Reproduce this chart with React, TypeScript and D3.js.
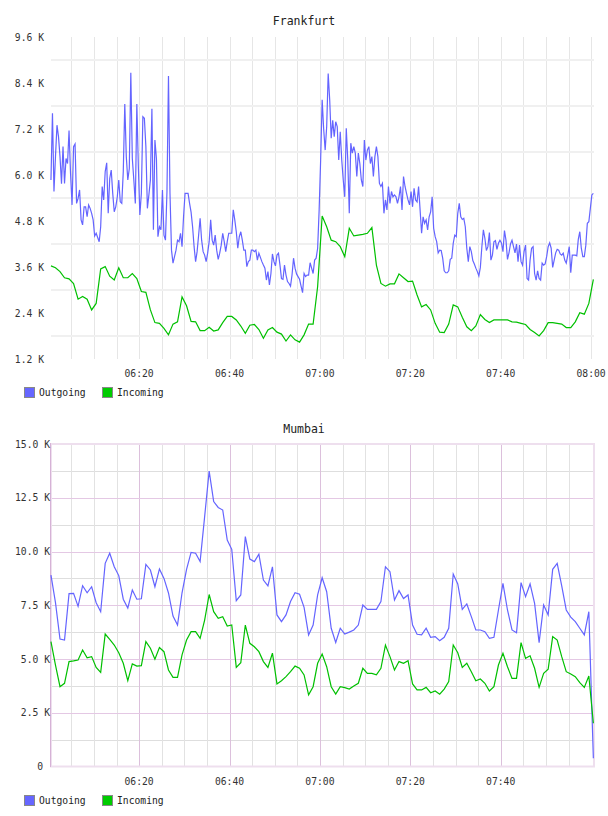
import React from "react";
import * as d3 from "d3";

// series start at 06:00:30, Frankfurt outgoing every 20 s, the others every minute (values in K)
const fraOutgoing = [
  5.87, 7.61, 5.57, 6.48, 7.3, 7.0, 6.48, 5.77, 6.74, 5.78,
  6.43, 6.3, 7.16, 6.04, 5.22, 6.74, 6.81, 5.26, 5.39, 5.61,
  4.83, 4.7, 5.17, 5.17, 4.91, 5.22, 5.13, 5.0, 4.83, 4.41,
  4.48, 4.37, 4.26, 4.65, 5.7, 5.35, 6.09, 6.32, 5.0, 5.91,
  6.13, 5.52, 5.04, 5.17, 5.42, 5.87, 5.3, 5.26, 6.09, 7.85,
  6.48, 5.87, 6.17, 8.67, 6.43, 5.87, 5.26, 7.85, 6.22, 4.96,
  5.52, 7.52, 7.48, 6.74, 5.13, 5.48, 5.87, 7.73, 4.57, 6.91,
  6.43, 4.39, 4.65, 4.57, 5.61, 4.43, 4.3, 5.57, 8.58, 5.52,
  4.04, 3.7, 3.87, 4.04, 4.3, 4.26, 4.48, 4.13, 4.91, 5.52,
  5.52,
  5.52, 5.26, 5.03, 4.65, 4.13, 3.74, 4.0, 4.43, 4.87, 4.3,
  4.0, 3.91, 3.74, 3.96, 4.26, 4.83, 4.3, 4.17, 4.43, 4.04,
  3.8, 3.96, 4.17, 4.48, 4.26, 4.0, 4.26, 4.48, 4.48, 4.48,
  5.09, 4.83, 4.52, 4.09, 4.39, 4.52, 4.3, 4.04, 4.04, 3.61,
  3.74, 3.78, 4.04, 4.04, 4.0, 4.04, 3.78, 3.96, 3.85, 3.74,
  3.65, 3.57, 3.26, 3.48, 3.13, 3.43, 3.94, 3.74, 3.63, 3.91,
  3.96, 3.65, 3.3, 3.28, 3.65, 3.39, 3.22, 3.17, 3.1, 3.39,
  3.83, 3.57, 3.42, 3.35, 3.28, 3.1, 2.93, 3.43, 3.35, 3.39,
  3.39, 3.71, 3.57, 3.43, 3.78, 3.83, 4.09, 5.09,
  6.4, 7.96, 7.2, 6.65, 7.26, 8.65, 7.96, 6.96, 7.43, 7.0,
  7.39, 7.26, 6.39, 7.13, 6.39, 5.87, 5.43, 7.22, 6.39, 5.0,
  6.83, 6.57, 6.74, 6.57, 5.96, 6.57, 6.3, 5.87, 5.7, 6.91,
  6.39, 6.65, 6.74, 6.3, 6.48, 5.96, 6.48, 6.74, 6.48, 5.78,
  5.7, 5.78, 5.0, 5.35, 5.09, 5.7, 5.26, 5.57, 5.43, 5.48,
  5.43, 5.26, 5.43, 5.7, 5.09, 5.96, 5.7, 5.52, 5.35, 5.22,
  5.57, 5.17, 5.65, 5.35, 5.3, 5.7, 5.09, 4.48, 4.91, 4.74,
  4.83, 4.57, 4.91, 5.04, 5.43, 4.61, 4.39, 4.26, 3.97, 4.04,
  4.03, 3.83, 3.5, 3.45, 3.45, 3.5, 3.8, 3.83, 4.22, 4.43,
  4.39, 5.0, 5.26, 4.91,
  4.84, 4.87, 4.65, 4.09, 3.74, 4.13, 4.0, 3.77, 3.68, 3.57,
  3.48, 3.37, 3.59, 4.13, 4.57, 4.35, 4.03, 4.13, 4.5, 3.78,
  3.91, 4.26, 4.29, 4.06, 4.22, 4.3, 4.23, 4.0, 4.55, 4.3,
  3.8, 3.97, 4.2, 4.3, 4.13, 3.97, 4.2, 3.74, 4.17, 3.74,
  3.65, 4.0, 4.17, 3.3, 3.26, 3.78, 4.09, 4.13, 3.43, 3.26,
  3.5, 3.3, 3.26, 3.7, 3.65, 3.68, 3.87, 4.13, 4.23, 4.09,
  3.59, 3.78, 3.97, 4.06, 4.04, 3.94, 3.91, 3.96, 3.78, 3.7,
  3.91, 4.13, 3.45, 3.91, 3.91, 3.91, 3.89, 4.32, 4.52, 4.09,
  3.87, 3.87, 4.17, 4.74, 4.78, 5.13, 5.48, 5.52,
];

const fraIncoming = [
  3.63, 3.58, 3.48, 3.32, 3.29, 3.17, 2.76, 2.83, 2.76, 2.48,
  2.65, 3.55, 3.61, 3.36, 3.26, 3.58, 3.32, 3.32, 3.43, 3.3,
  2.96, 2.94, 2.48, 2.15, 2.13, 2.0, 1.83, 2.11, 2.17, 2.82,
  2.59, 2.18, 2.17, 1.94, 1.94, 2.03, 1.93, 1.96, 2.15, 2.31,
  2.31, 2.22, 2.06, 1.87, 2.08, 2.1, 1.97, 1.74, 1.96, 2.02,
  1.9, 1.85, 1.67, 1.83, 1.7, 1.64,
  1.83, 2.11, 2.11, 3.09, 4.93, 4.65, 4.3, 4.26, 4.13, 3.87,
  4.61, 4.41, 4.43, 4.45, 4.48, 4.63, 3.65, 3.17, 3.1, 3.16,
  3.16, 3.42, 3.32, 3.22, 3.23, 2.87, 2.56, 2.62, 2.48, 2.13,
  1.9, 1.89, 2.11, 2.61, 2.56, 2.29, 2.04, 1.94, 2.06, 2.36,
  2.23, 2.15, 2.22, 2.22, 2.22, 2.22, 2.17, 2.16, 2.13, 2.1,
  1.97, 1.89, 1.8, 1.94, 2.15, 2.15, 2.13, 2.11, 2.02, 2.02,
  2.17, 2.41, 2.37, 2.65, 3.28,
];

const mumOutgoing = [
  8.9, 7.62, 5.93, 5.88, 8.04, 8.05, 7.45, 8.41, 8.08, 8.36,
  7.62, 7.2, 9.45, 9.92, 9.29, 8.88, 7.78, 7.37, 8.21, 7.78,
  7.8, 9.4, 9.14, 8.36, 9.19, 8.75, 8.07, 7.0, 6.58, 8.08,
  9.17, 9.96, 9.92, 9.53, 11.62, 13.74, 12.32, 12.05, 11.93, 10.53,
  10.1, 7.71, 7.98, 10.69, 9.65, 9.53, 9.88, 8.67, 8.4, 9.29,
  7.05, 6.74, 7.05, 7.67, 8.08, 8.01,
  7.4, 6.12, 6.58, 7.98, 8.78, 8.13, 6.43, 5.77, 6.43, 6.16,
  6.25, 6.35, 6.58, 7.51, 7.31, 7.31, 7.31, 7.67, 9.29, 9.06,
  7.74, 8.18, 7.81, 7.98, 6.58, 6.15, 6.12, 6.43, 6.01, 6.04,
  5.85, 6.01, 6.43, 8.95, 8.49, 7.31, 7.56, 6.97, 6.35, 6.35,
  6.27, 5.96, 6.01, 7.28, 8.52, 7.28, 6.35, 6.22, 8.55, 7.9,
  8.49, 7.59, 5.76, 7.51, 7.05, 9.17, 9.45, 8.4, 7.28, 6.95,
  6.74, 6.43, 6.12, 7.2, 0.38,
];

const mumIncoming = [
  5.81, 4.72, 3.71, 3.87, 4.88, 4.91, 4.95, 5.42, 5.06, 5.11,
  4.61, 4.38, 6.16, 5.91, 5.65, 5.29, 4.8, 3.99, 4.77, 4.67,
  4.69, 5.81, 5.5, 4.99, 5.53, 5.34, 4.49, 4.15, 4.15, 5.19,
  5.88, 6.27, 6.27, 5.96, 6.81, 8.0, 7.2, 6.89, 6.97, 6.53,
  6.58, 4.61, 4.83, 6.58, 5.73, 5.57, 5.34, 4.88, 4.61, 5.27,
  3.84, 3.99, 4.18, 4.41, 4.67, 4.57,
  4.26, 3.33, 3.71, 4.8, 5.23, 4.64, 3.71, 3.37, 3.71, 3.67,
  3.6, 3.74, 3.87, 4.57, 4.33, 4.33, 4.26, 4.57, 5.65, 5.11,
  4.49, 4.88, 4.8, 4.92, 3.84, 3.56, 3.56, 3.68, 3.43, 3.51,
  3.36, 3.6, 3.95, 5.65, 5.29, 4.61, 4.8, 4.41, 3.99, 4.07,
  3.87, 3.51, 3.71, 4.72, 5.27, 4.64, 4.1, 4.1, 5.76, 5.03,
  5.15, 4.57, 3.68, 4.33, 4.52, 6.04, 5.88, 5.11, 4.41, 4.3,
  4.18, 3.9, 3.68, 4.21, 2.01,
];

const fraYTicks = [1.2, 2.4, 3.6, 4.8, 6.0, 7.2, 8.4, 9.6];
const fraYGrid = [1.8, 3.0, 4.2, 5.4, 6.6, 7.8, 9.0];
const mumYTicks = [0, 2.5, 5, 7.5, 10, 12.5, 15];
const mumYMinor = [1.25, 3.75, 6.25, 8.75, 11.25, 13.75];
const fraXLabels = ["06:20", "06:40", "07:00", "07:20", "07:40", "08:00"];
const mumXLabels = ["06:20", "06:40", "07:00", "07:20", "07:40"];
const seriesNames = ["Outgoing", "Incoming"];
const seriesColors = ["#6464ff", "#00c000"];
const legendColors = ["#6666ff", "#00cc00"];

const day = (h: number, m: number, s = 0) => new Date(2020, 0, 1, h, m, s);
const START = day(6, 0, 30);
const at = (i: number, stepSec: number) => new Date(START.getTime() + i * stepSec * 1000);
const parseHM = d3.timeParse("%H:%M");
const labelTime = (s: string) => {
  const p = parseHM(s)!;
  return day(p.getHours(), p.getMinutes());
};

const x = d3.scaleTime().domain([day(6, 0), day(8, 0)]).range([48.7, 591.1]);
const gridTimes = d3.timeMinute.every(5)!.range(day(6, 5), day(8, 0, 1));

const MONO = "'DejaVu Sans Mono', monospace";
const fmtK = (v: number) => (v === 0 ? "0" : `${d3.format(".1f")(v)} K`);

const Legend = ({ y }: { y: number }) => (
  <g>
    {seriesNames.map((name, i) => (
      <g key={name} transform={`translate(${24 + i * 78},${y})`}>
        <rect x={0.5} y={0.5} width={10} height={10} fill={legendColors[i]} stroke="#888" />
        <text x={15} y={9} fontFamily={MONO} fontSize={9.7} fill="#222">{name}</text>
      </g>
    ))}
  </g>
);

const Frankfurt = () => {
  const y = d3.scaleLinear().domain([1.2, 9.6]).range([359, 37]);
  const lineOut = d3.line<number>().x((_, i) => x(at(i, 20))).y((d) => y(d));
  const lineIn = d3.line<number>().x((_, i) => x(at(i, 60))).y((d) => y(d));
  return (
    <g>
      <text x={304} y={25} textAnchor="middle" fontFamily={MONO} fontSize={11.5} fill="#222">Frankfurt</text>
      {gridTimes.map((t) => (
        <line key={+t} x1={Math.round(x(t)) + 0.5} x2={Math.round(x(t)) + 0.5} y1={37} y2={359} stroke="#e6e6e6" />
      ))}
      {fraYGrid.map((v) => (
        <line key={v} x1={51} x2={594} y1={y(v)} y2={y(v)} stroke="#f0f0f0" strokeWidth={2} />
      ))}
      {fraYTicks.map((v) => (
        <text key={v} x={44} y={y(v) + 3.6} textAnchor="end" fontFamily={MONO} fontSize={9.7} fill="#333">{fmtK(v)}</text>
      ))}
      {fraXLabels.map((s) => (
        <text key={s} x={x(labelTime(s))} y={377} textAnchor="middle" fontFamily={MONO} fontSize={9.7} fill="#333">{s}</text>
      ))}
      <path d={lineOut(fraOutgoing)!} fill="none" stroke={seriesColors[0]} strokeWidth={1.2} />
      <path d={lineIn(fraIncoming)!} fill="none" stroke={seriesColors[1]} strokeWidth={1.2} />
      <Legend y={387} />
    </g>
  );
};

const Mumbai = () => {
  const y = d3.scaleLinear().domain([0, 15]).range([766.5, 444]);
  const lineOut = d3.line<number>().x((_, i) => x(at(i, 60))).y((d) => y(d));
  const lineIn = d3.line<number>().x((_, i) => x(at(i, 60))).y((d) => y(d));
  const inner = gridTimes.filter((t) => +t < +day(8, 0));
  return (
    <g>
      <text x={304} y={433} textAnchor="middle" fontFamily={MONO} fontSize={11.5} fill="#222">Mumbai</text>
      {mumYMinor.map((v) => (
        <line key={v} x1={51} x2={594} y1={Math.round(y(v)) + 0.5} y2={Math.round(y(v)) + 0.5} stroke="#dedede" />
      ))}
      {inner.map((t) => {
        const major = t.getMinutes() % 20 === 0;
        const px = Math.round(x(t)) + 0.5;
        return <line key={+t} x1={px} x2={px} y1={444} y2={766} stroke={major ? "#dcc0dc" : "#e2e2e2"} />;
      })}
      {mumYTicks.slice(1, -1).map((v) => (
        <line key={v} x1={51} x2={594} y1={Math.round(y(v)) + 0.5} y2={Math.round(y(v)) + 0.5} stroke="#e4c8e4" />
      ))}
      <rect x={51} y={444} width={543} height={322.5} fill="none" stroke="#eedfee" strokeWidth={2} />
      <line x1={50.5} x2={50.5} y1={443} y2={767} stroke="#d6b2d6" />
      {mumYTicks.map((v) => (
        <text key={v} x={v === 0 ? 43 : 50} y={y(v) + 3.6} textAnchor="end" fontFamily={MONO} fontSize={9.7} fill="#333">{fmtK(v)}</text>
      ))}
      {mumXLabels.map((s) => (
        <text key={s} x={x(labelTime(s))} y={785} textAnchor="middle" fontFamily={MONO} fontSize={9.7} fill="#333">{s}</text>
      ))}
      <path d={lineOut(mumOutgoing)!} fill="none" stroke={seriesColors[0]} strokeWidth={1.2} />
      <path d={lineIn(mumIncoming)!} fill="none" stroke={seriesColors[1]} strokeWidth={1.2} />
      <Legend y={795} />
    </g>
  );
};

export default function App() {
  return (
    <svg width={608} height={816} style={{ position: "absolute", left: 0, top: 0, background: "#fff" }}>
      <rect width={608} height={816} fill="#fff" />
      <Frankfurt />
      <Mumbai />
    </svg>
  );
}
